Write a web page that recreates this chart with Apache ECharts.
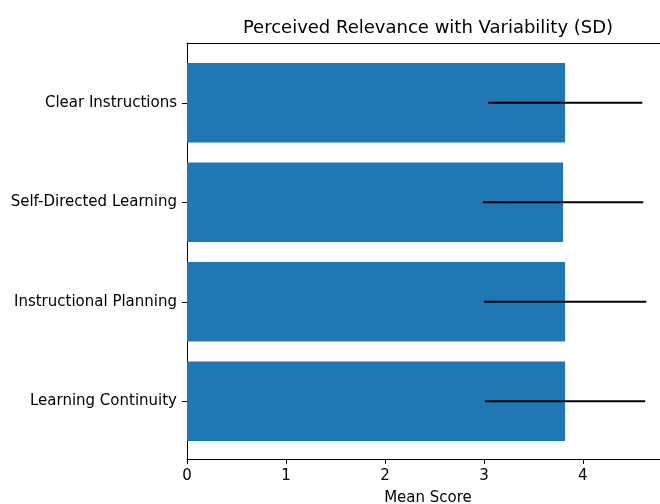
<!DOCTYPE html>
<html>
<head>
<meta charset="utf-8">
<script src="https://cdn.jsdelivr.net/npm/echarts@6/dist/echarts.min.js"></script>
<style>html,body{margin:0;padding:0;background:#fff;}#c{width:660px;height:504px;}</style>
</head>
<body>
<div id="c"></div>
<script>
const categories = ['Learning Continuity', 'Instructional Planning', 'Self-Directed Learning', 'Clear Instructions'];
const means = [3.82, 3.82, 3.80, 3.82];
const sds = [0.81, 0.82, 0.81, 0.78];
const xTicks = [0, 1, 2, 3, 4];
const titleText = 'Perceived Relevance with Variability (SD)';
const xName = 'Mean Score';

const FONT = 'DejaVu Sans';
const xMax = 4.87;
const errData = means.map((m, i) => [m - sds[i], m + sds[i], i]);

const chart = echarts.init(document.getElementById('c'), null, {renderer: 'canvas'});
chart.setOption({
  animation: false,
  backgroundColor: '#fff',
  textStyle: {fontFamily: FONT},
  graphic: [{
    type: 'text', x: 428, y: 28,
    style: {text: titleText, fill: '#000', font: '18px "DejaVu Sans"', textAlign: 'center', textVerticalAlign: 'middle'}
  }],
  grid: [
    {left: 187, width: 482, top: 53, height: 398, outerBoundsMode: 'none', containLabel: false},
    {left: 187, width: 482, top: 43, height: 416, outerBoundsMode: 'none', containLabel: false}
  ],
  xAxis: [
    {gridIndex: 0, type: 'value', min: 0, max: xMax, show: false},
    {gridIndex: 1, type: 'value', min: 0, max: xMax, interval: 1, position: 'bottom',
      axisLine: {show: true, onZero: false, lineStyle: {color: '#000', width: 1}},
      axisTick: {show: true, length: 5, lineStyle: {color: '#000'}},
      axisLabel: {color: '#000', fontSize: 15, fontFamily: FONT, margin: 10,
        formatter: v => xTicks.indexOf(v) >= 0 ? String(v) : ''},
      splitLine: {show: false},
      name: xName, nameLocation: 'middle', nameGap: 32,
      nameTextStyle: {color: '#000', fontSize: 15, fontFamily: FONT}},
    {gridIndex: 1, type: 'value', min: 0, max: xMax, position: 'top',
      axisLine: {show: true, onZero: false, lineStyle: {color: '#000', width: 1}},
      axisTick: {show: false}, axisLabel: {show: false}, splitLine: {show: false}}
  ],
  yAxis: [
    {gridIndex: 0, type: 'category', data: categories,
      axisLine: {show: false, onZero: false},
      axisTick: {show: true, alignWithLabel: true, length: 5, lineStyle: {color: '#000'}},
      axisLabel: {color: '#000', fontSize: 15, fontFamily: FONT, margin: 10},
      splitLine: {show: false}},
    {gridIndex: 1, type: 'value', min: 0, max: 1, position: 'left',
      axisLine: {show: true, onZero: false, lineStyle: {color: '#000', width: 1}},
      axisTick: {show: false}, axisLabel: {show: false}, splitLine: {show: false}},
    {gridIndex: 1, type: 'value', min: 0, max: 1, position: 'right',
      axisLine: {show: true, onZero: false, lineStyle: {color: '#000', width: 1}},
      axisTick: {show: false}, axisLabel: {show: false}, splitLine: {show: false}}
  ],
  series: [
    {type: 'bar', xAxisIndex: 0, yAxisIndex: 0, data: means, barWidth: '80%',
      itemStyle: {color: '#1f77b4'}, z: 2},
    {type: 'custom', xAxisIndex: 0, yAxisIndex: 0, data: errData, z: 5,
      renderItem: function (params, api) {
        const p1 = api.coord([api.value(0), api.value(2)]);
        const p2 = api.coord([api.value(1), api.value(2)]);
        return {type: 'line', shape: {x1: p1[0], y1: p1[1], x2: p2[0], y2: p2[1]},
          style: {stroke: '#000', lineWidth: 2}};
      }}
  ]
});
</script>
</body>
</html>
